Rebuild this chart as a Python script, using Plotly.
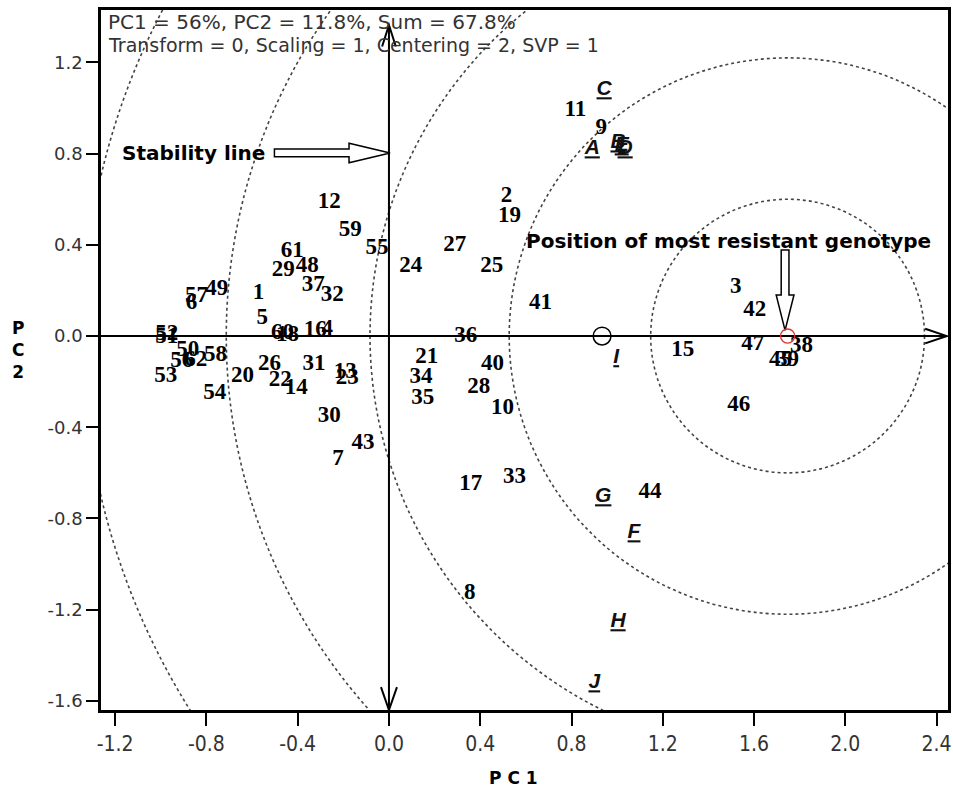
import plotly.graph_objects as go

# ---------------- data ----------------
genotype_labels = [str(i) for i in range(1, 63)]
genotype_pc1 = [-0.572, 0.515, 1.520, -0.271, -0.555, -0.865, -0.223, 0.354, 0.930, 0.498,
                0.817, -0.262, -0.192, -0.406, 1.288, -0.323, 0.358, -0.445, 0.528, -0.642,
                0.166, -0.476, -0.183, 0.096, 0.450, -0.524, 0.288, 0.393, -0.463, -0.262,
                -0.328, -0.249, 0.550, 0.140, 0.148, 0.336, -0.332, 1.808, 1.747, 0.454,
                0.664, 1.603, -0.114, 1.144, 1.716, 1.533, 1.594, -0.358, -0.755, -0.882,
                -0.974, -0.974, -0.978, -0.764, -0.052, -0.908, -0.843, -0.760, -0.170, -0.467,
                -0.424, -0.847]
genotype_pc2 = [0.189, 0.614, 0.215, 0.031, 0.079, 0.145, -0.539, -1.127, 0.912, -0.316,
                0.991, 0.588, -0.158, -0.228, -0.061, 0.026, -0.649, 0.004, 0.526, -0.175,
                -0.092, -0.193, -0.184, 0.307, 0.307, -0.123, 0.399, -0.224, 0.289, -0.351,
                -0.123, 0.180, -0.618, -0.180, -0.272, 0.000, 0.224, -0.044, -0.105, -0.123,
                0.145, 0.114, -0.469, -0.684, -0.105, -0.303, -0.035, 0.307, 0.206, -0.061,
                -0.004, 0.009, -0.175, -0.250, 0.386, -0.110, 0.175, -0.083, 0.465, 0.013,
                0.373, -0.105]

env_labels = ["A", "B", "C", "D", "E", "F", "G", "H", "I", "J"]
env_pc1 = [0.891, 1.004, 0.943, 1.035, 1.020, 1.074, 0.939, 1.004, 0.996, 0.900]
env_pc2 = [0.820, 0.846, 1.079, 0.820, 0.833, -0.864, -0.706, -1.254, -0.096, -1.522]

ideal_point = (1.747, 0.0)          # position of most resistant genotype
mean_env_point = (0.934, 0.0)       # average environment marker
circle_radii = [0.60, 1.22, 1.83, 2.46, 3.09]

x_ticks = [-1.2, -0.8, -0.4, 0.0, 0.4, 0.8, 1.2, 1.6, 2.0, 2.4]
y_ticks = [-1.6, -1.2, -0.8, -0.4, 0.0, 0.4, 0.8, 1.2]
x_range = [-1.262, 2.45]
y_range = [-1.64, 1.43]

# ---------------- figure ----------------
fig = go.Figure()

shapes = []
cx, cy = ideal_point
for r in circle_radii:
    shapes.append(dict(type="circle", xref="x", yref="y",
                       x0=cx - r, x1=cx + r, y0=cy - r, y1=cy + r,
                       line=dict(color="#444444", width=1.6, dash="dot"), layer="below"))

# axis lines through origin with open arrowheads
shapes.append(dict(type="line", xref="x", yref="y", x0=x_range[0], x1=2.445, y0=0, y1=0,
                   line=dict(color="black", width=2)))
shapes.append(dict(type="line", xref="x", yref="y", x0=0, x1=0, y0=y_range[0], y1=1.364,
                   line=dict(color="black", width=2)))
shapes.append(dict(type="path", xref="x", yref="y",
                   path="M 2.35,0.032 L 2.445,0 L 2.35,-0.032",
                   line=dict(color="black", width=2)))
shapes.append(dict(type="path", xref="x", yref="y",
                   path="M -0.035,-1.54 L 0,-1.64 L 0.035,-1.54",
                   line=dict(color="black", width=2)))
shapes.append(dict(type="path", xref="x", yref="y",
                   path="M -0.03,1.27 L 0,1.364 L 0.03,1.27",
                   line=dict(color="black", width=2)))

# hollow arrow: stability line
shapes.append(dict(type="path", xref="x", yref="y",
                   path=("M -0.502,0.786 L -0.175,0.786 L -0.175,0.76 L 0.005,0.803 "
                         "L -0.175,0.846 L -0.175,0.820 L -0.502,0.820 Z"),
                   fillcolor="white", line=dict(color="black", width=1.5)))
# hollow arrow: down to ideal point
shapes.append(dict(type="path", xref="x", yref="y",
                   path=("M 1.719,0.377 L 1.719,0.18 L 1.697,0.18 L 1.736,0.025 "
                         "L 1.775,0.18 L 1.753,0.18 L 1.753,0.377 Z"),
                   fillcolor="white", line=dict(color="black", width=1.5)))

# markers
rr = 0.031
shapes.append(dict(type="circle", xref="x", yref="y",
                   x0=ideal_point[0] - rr, x1=ideal_point[0] + rr,
                   y0=ideal_point[1] - rr, y1=ideal_point[1] + rr,
                   line=dict(color="#e03030", width=1.3)))
rb = 0.039
shapes.append(dict(type="circle", xref="x", yref="y",
                   x0=mean_env_point[0] - rb, x1=mean_env_point[0] + rb,
                   y0=mean_env_point[1] - rb, y1=mean_env_point[1] + rb,
                   line=dict(color="black", width=1.5)))

fig.add_trace(go.Scatter(
    x=genotype_pc1, y=genotype_pc2, text=genotype_labels, mode="text",
    textposition="middle center",
    textfont=dict(family="Liberation Serif, Times New Roman, serif", size=23,
                  color="black", weight="bold"),
    hoverinfo="text", showlegend=False, cliponaxis=False))

fig.add_trace(go.Scatter(
    x=env_pc1, y=env_pc2, text=env_labels, mode="text",
    textposition="middle center",
    textfont=dict(family="Liberation Sans, Arial, sans-serif", size=21,
                  color="#111111", weight="bold", style="italic", lineposition="under"),
    hoverinfo="text", showlegend=False, cliponaxis=False))

annotations = [
    dict(text="PC1 = 56%, PC2 = 11.8%, Sum = 67.8%", xref="x", yref="y",
         x=-1.238, y=1.377, xanchor="left", yanchor="middle", showarrow=False,
         font=dict(family="DejaVu Sans, Arial, sans-serif", size=20, color="#333333")),
    dict(text="Transform = 0, Scaling = 1, Centering = 2, SVP = 1", xref="x", yref="y",
         x=-1.238, y=1.276, xanchor="left", yanchor="middle", showarrow=False,
         font=dict(family="DejaVu Sans, Arial, sans-serif", size=19, color="#333333")),
    dict(text="<b>Stability line</b>", xref="x", yref="y",
         x=-0.533, y=0.803, xanchor="right", yanchor="middle", showarrow=False,
         font=dict(family="DejaVu Sans, Arial, sans-serif", size=20, color="black")),
    dict(text="<b>Position of most resistant genotype</b>", xref="x", yref="y",
         x=1.489, y=0.417, xanchor="center", yanchor="middle", showarrow=False,
         font=dict(family="DejaVu Sans, Arial, sans-serif", size=20, color="black")),
    dict(text="<b>P<br>C<br>2</b>", xref="paper", yref="paper",
         x=-0.098, y=0.515, xanchor="center", yanchor="middle", showarrow=False,
         align="center",
         font=dict(family="DejaVu Sans, Arial, sans-serif", size=17, color="black")),
    dict(text="<b>P C 1</b>", xref="paper", yref="paper",
         x=0.487, y=-0.097, xanchor="center", yanchor="middle", showarrow=False,
         font=dict(family="DejaVu Sans, Arial, sans-serif", size=17, color="black")),
]

fig.update_layout(
    width=953, height=796,
    margin=dict(l=101, r=2, t=10, b=86),
    paper_bgcolor="white", plot_bgcolor="white",
    shapes=shapes, annotations=annotations,
    showlegend=False,
)
fig.update_xaxes(range=x_range, tickvals=x_ticks, ticktext=[f"{v:.1f}" for v in x_ticks],
                 showgrid=False, zeroline=False, showline=True, mirror=True,
                 linecolor="black", linewidth=2.5, ticks="outside", ticklen=13,
                 tickwidth=1.5, tickcolor="black",
                 tickfont=dict(family="Liberation Sans Narrow, DejaVu Sans Condensed, sans-serif",
                               size=21, color="#333333"))
fig.update_yaxes(range=y_range, tickvals=y_ticks, ticktext=[f"{v:.1f}" for v in y_ticks],
                 showgrid=False, zeroline=False, showline=True, mirror=True,
                 linecolor="black", linewidth=2.5, ticks="outside", ticklen=12,
                 tickwidth=1.5, tickcolor="black",
                 tickfont=dict(family="DejaVu Sans, Arial, sans-serif", size=18, color="#333333"))

fig.write_html("out.html", config={"displayModeBar": False},
               post_script="document.body.style.margin='0px';document.body.style.overflow='hidden';")
